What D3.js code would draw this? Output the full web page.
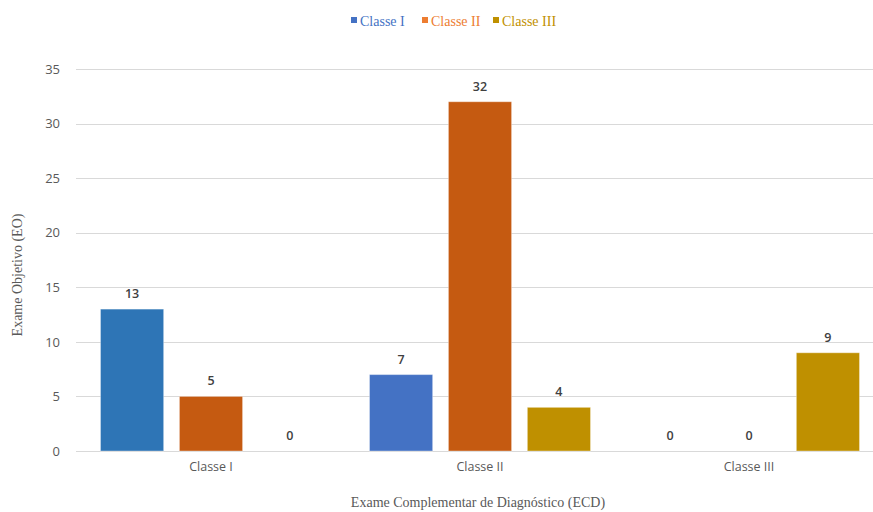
<!DOCTYPE html>
<html><head><meta charset="utf-8">
<script src="https://cdn.jsdelivr.net/npm/d3@7"></script>
<style>body{margin:0;background:#fff}svg{display:block}</style>
</head><body>
<svg id="c" width="873" height="512"></svg>
<script>
const categories = ["Classe I", "Classe II", "Classe III"];
const seriesNames = ["Classe I", "Classe II", "Classe III"];
const classeI = [13, 7, 0];
const classeII = [5, 32, 0];
const classeIII = [0, 4, 9];
const yTicks = [0, 5, 10, 15, 20, 25, 30, 35];

const seriesValues = [classeI, classeII, classeIII];
const barColors = [["#2E75B6", "#4472C4", "#4472C4"], ["#C55A11","#C55A11","#C55A11"], ["#BF9000","#BF9000","#BF9000"]];
const legendColors = ["#4472C4", "#ED7D31", "#BF9000"];

const svg = d3.select("#c");
const x0 = d3.scaleBand().domain(categories).range([76.5, 883.5]).paddingInner(0).paddingOuter(0);
const x1 = d3.scaleBand().domain(seriesNames).range([24, x0.bandwidth() - 24]).paddingInner(0.2).paddingOuter(0);
const y = d3.scaleLinear().domain([0, 35]).range([451, 69]);

// grid
svg.append("g").selectAll("line").data(yTicks).join("line")
  .attr("x1", 76).attr("x2", 873)
  .attr("y1", d => Math.round(y(d)) + 0.5).attr("y2", d => Math.round(y(d)) + 0.5)
  .attr("stroke", "#d9d9d9").attr("stroke-width", 1);

// y axis labels
const yAxis = d3.axisLeft(y).tickValues(yTicks).tickSize(0).tickPadding(0);
const ga = svg.append("g").attr("transform", "translate(60,0)").call(yAxis);
ga.select(".domain").remove();
ga.selectAll("text").attr("font-family", "Open Sans, sans-serif").attr("font-size", 13).attr("fill", "#595959");

// x axis labels
const xAxis = d3.axisBottom(x0).tickSize(0).tickPadding(0);
const gx = svg.append("g").attr("transform", "translate(0,462)").call(xAxis);
gx.select(".domain").remove();
gx.selectAll("text").attr("font-family", "Open Sans, sans-serif").attr("font-size", 12.5).attr("fill", "#595959");

// bars
const data = [];
categories.forEach((c, ci) => seriesNames.forEach((s, si) => data.push({c, s, ci, si, v: seriesValues[si][ci]})));
svg.append("g").selectAll("rect").data(data.filter(d => d.v > 0)).join("rect")
  .attr("x", d => x0(d.c) + x1(d.s))
  .attr("width", x1.bandwidth())
  .attr("y", d => y(d.v))
  .attr("height", d => y(0) - y(d.v))
  .attr("fill", d => barColors[d.si][d.ci])
  .attr("stroke", "rgba(255,255,255,0.35)").attr("stroke-width", 1);

svg.append("g").selectAll("text").data(data).join("text")
  .attr("x", d => x0(d.c) + x1(d.s) + x1.bandwidth() / 2)
  .attr("y", d => y(d.v) - 11)
  .attr("text-anchor", "middle")
  .attr("font-family", "Open Sans, sans-serif").attr("font-size", 12.5).attr("font-weight", 600)
  .attr("fill", "#404040")
  .text(d => d.v);

// axis titles
svg.append("text").attr("transform", "translate(22,275) rotate(-90)")
  .attr("text-anchor", "middle").attr("font-family", "Liberation Serif, serif").attr("font-size", 14)
  .attr("fill", "#595959").text("Exame Objetivo (EO)");
svg.append("text").attr("x", 478).attr("y", 507)
  .attr("text-anchor", "middle").attr("font-family", "Liberation Serif, serif").attr("font-size", 14)
  .attr("fill", "#595959").text("Exame Complementar de Diagnóstico (ECD)");

// legend
const legX = [351, 422, 493];
const lg = svg.append("g");
seriesNames.forEach((s, i) => {
  lg.append("rect").attr("x", legX[i]).attr("y", 17).attr("width", 6).attr("height", 6).attr("fill", legendColors[i]);
  lg.append("text").attr("x", legX[i] + 9).attr("y", 26).attr("font-family", "Liberation Serif, serif")
    .attr("font-size", 14).attr("fill", legendColors[i]).text(s);
});
</script>
</body></html>
